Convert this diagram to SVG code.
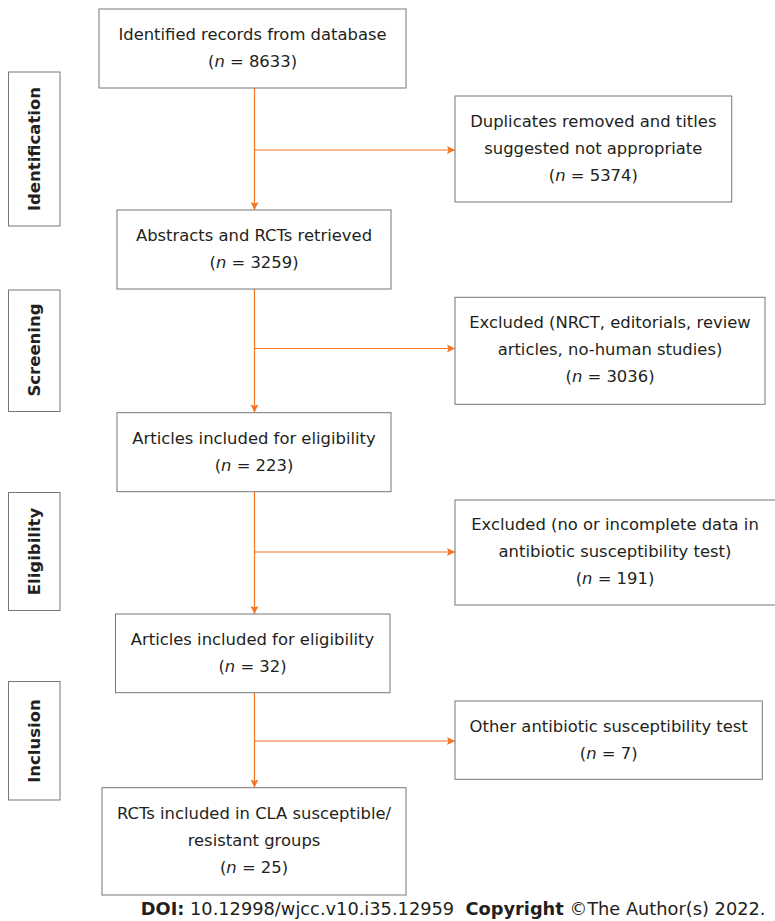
<svg xmlns="http://www.w3.org/2000/svg" width="775" height="921" viewBox="0 0 775 921">
<style>
.box{fill:#fff;stroke:#777;stroke-width:1}
.t{font-family:"DejaVu Sans",Verdana,sans-serif;font-size:16.4px;fill:#231f20;text-anchor:middle}
.lab{font-family:"DejaVu Sans",Verdana,sans-serif;font-size:16.5px;font-weight:bold;fill:#231f20;text-anchor:middle}
.c{fill:none;stroke:#f47521;stroke-width:1.2}
.i{font-style:italic}
.foot{font-family:"DejaVu Sans",Verdana,sans-serif;font-size:17.8px;fill:#231f20;text-anchor:end}
</style>
<defs>
<marker id="ah" markerWidth="9" markerHeight="9" refX="8" refY="4.5" orient="auto" markerUnits="userSpaceOnUse">
<path d="M0,0.5 L8,4.5 L0,8.5 L1.5,4.5 Z" fill="#f47521"/>
</marker>
</defs>
<rect width="775" height="921" fill="#fff"/>

<g id="connectors">
<line class="c" x1="254.5" y1="88" x2="254.5" y2="210" marker-end="url(#ah)"/>
<line class="c" x1="254.5" y1="150" x2="455" y2="150" marker-end="url(#ah)"/>
<line class="c" x1="254.5" y1="289" x2="254.5" y2="412.5" marker-end="url(#ah)"/>
<line class="c" x1="254.5" y1="348.5" x2="455" y2="348.5" marker-end="url(#ah)"/>
<line class="c" x1="254.5" y1="492" x2="254.5" y2="614" marker-end="url(#ah)"/>
<line class="c" x1="254.5" y1="552" x2="455" y2="552" marker-end="url(#ah)"/>
<line class="c" x1="254.5" y1="692.5" x2="254.5" y2="787.5" marker-end="url(#ah)"/>
<line class="c" x1="254.5" y1="741" x2="455" y2="741" marker-end="url(#ah)"/>
</g>

<g id="label-identification">
<rect class="box" x="8.5" y="72" width="51.5" height="154"/>
<text class="lab" transform="translate(40,149) rotate(-90)">Identification</text>
</g>
<g id="label-screening">
<rect class="box" x="8.5" y="290" width="51.5" height="121.5"/>
<text class="lab" transform="translate(40,350) rotate(-90)">Screening</text>
</g>
<g id="label-eligibility">
<rect class="box" x="8.5" y="492.5" width="51.5" height="118"/>
<text class="lab" transform="translate(40,551.5) rotate(-90)">Eligibility</text>
</g>
<g id="label-inclusion">
<rect class="box" x="8.5" y="681.5" width="51.5" height="118.5"/>
<text class="lab" transform="translate(40,741) rotate(-90)">Inclusion</text>
</g>

<g id="n1">
<rect class="box" x="99" y="9" width="307" height="79"/>
<text class="t" x="252.5" y="40">Identified records from database</text>
<text class="t" x="252.5" y="66.7">(<tspan class="i">n</tspan> = 8633)</text>
</g>
<g id="n2">
<rect class="box" x="117" y="210" width="274" height="79"/>
<text class="t" x="254" y="240.7">Abstracts and RCTs retrieved</text>
<text class="t" x="254" y="268.3">(<tspan class="i">n</tspan> = 3259)</text>
</g>
<g id="n3">
<rect class="box" x="117" y="412.7" width="274" height="79"/>
<text class="t" x="254" y="443.5">Articles included for eligibility</text>
<text class="t" x="254" y="470.5">(<tspan class="i">n</tspan> = 223)</text>
</g>
<g id="n4">
<rect class="box" x="115.5" y="614" width="274.5" height="78.7"/>
<text class="t" x="252.5" y="644.5">Articles included for eligibility</text>
<text class="t" x="252.5" y="671.5">(<tspan class="i">n</tspan> = 32)</text>
</g>
<g id="n5">
<rect class="box" x="102" y="787.7" width="304" height="107.3"/>
<text class="t" x="254" y="819.3">RCTs included in CLA susceptible/</text>
<text class="t" x="254" y="846">resistant groups</text>
<text class="t" x="254" y="873">(<tspan class="i">n</tspan> = 25)</text>
</g>

<g id="r1">
<rect class="box" x="455" y="96" width="276.7" height="106"/>
<text class="t" x="593.3" y="126.5">Duplicates removed and titles</text>
<text class="t" x="593.3" y="153.5">suggested not appropriate</text>
<text class="t" x="593.3" y="180.5">(<tspan class="i">n</tspan> = 5374)</text>
</g>
<g id="r2">
<rect class="box" x="455" y="297.3" width="310" height="107"/>
<text class="t" x="610" y="328">Excluded (NRCT, editorials, review</text>
<text class="t" x="610" y="355">articles, no-human studies)</text>
<text class="t" x="610" y="382">(<tspan class="i">n</tspan> = 3036)</text>
</g>
<g id="r3">
<rect class="box" x="455" y="500" width="321" height="105"/>
<text class="t" x="615" y="530">Excluded (no or incomplete data in</text>
<text class="t" x="615" y="557">antibiotic susceptibility test)</text>
<text class="t" x="615" y="584">(<tspan class="i">n</tspan> = 191)</text>
</g>
<g id="r4">
<rect class="box" x="455" y="701" width="307.3" height="78.3"/>
<text class="t" x="608.7" y="731.5">Other antibiotic susceptibility test</text>
<text class="t" x="608.7" y="758.5">(<tspan class="i">n</tspan> = 7)</text>
</g>

<text class="foot" x="765.5" y="915" xml:space="preserve"><tspan font-weight="bold">DOI:</tspan> 10.12998/wjcc.v10.i35.12959  <tspan font-weight="bold">Copyright</tspan> ©The Author(s) 2022.</text>
</svg>
